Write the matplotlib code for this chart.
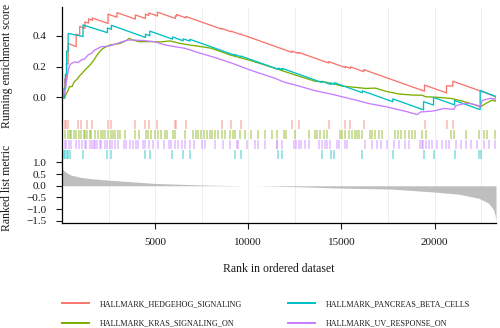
import matplotlib
matplotlib.use("Agg")
import matplotlib.pyplot as plt
from matplotlib.lines import Line2D

plt.rcParams["font.family"] = ["Liberation Serif", "DejaVu Serif"]

N_GENES = 23300

SET_NAMES = [
    "HALLMARK_HEDGEHOG_SIGNALING",
    "HALLMARK_KRAS_SIGNALING_ON",
    "HALLMARK_PANCREAS_BETA_CELLS",
    "HALLMARK_UV_RESPONSE_ON",
]
SET_COLORS = ["#F8766D", "#7CAE00", "#00BFC4", "#C77CFF"]

# running enrichment score, (rank, score) vertices
hedgehog_curve = [
    (0, 0.0), (150, -0.006), (150, 0.12), (240, 0.116), (240, 0.22), (330, 0.216),
    (330, 0.35), (760, 0.33), (760, 0.41), (950, 0.402), (950, 0.46), (1230, 0.448),
    (1230, 0.49), (1430, 0.482), (1430, 0.51), (1630, 0.50), (1630, 0.515),
    (2470, 0.48), (2470, 0.54), (2950, 0.52), (2950, 0.55), (3940, 0.508),
    (3940, 0.535), (4480, 0.512), (4480, 0.54), (4660, 0.532), (4660, 0.548),
    (5125, 0.528), (5125, 0.553), (6090, 0.512), (6090, 0.53), (6150, 0.527),
    (6150, 0.538), (6650, 0.516), (6650, 0.525), (8566, 0.443), (8566, 0.448),
    (9068, 0.426), (9068, 0.43), (9606, 0.407), (9606, 0.41), (12349, 0.292),
    (12349, 0.30), (12705, 0.285), (12705, 0.292), (14318, 0.223), (14318, 0.232),
    (15215, 0.193), (15215, 0.20), (15484, 0.188), (15484, 0.198), (16199, 0.167),
    (16199, 0.18), (19462, 0.04), (19462, 0.08), (20645, 0.029), (20645, 0.075),
    (20984, 0.0735), (20984, 0.105), (22563, 0.037), (23300, 0.004),
]
kras_curve = [
    (0, 0.0), (161, 0.004), (250, 0.03), (323, 0.043), (400, 0.07), (538, 0.07),
    (650, 0.1), (806, 0.117), (950, 0.14), (1075, 0.156), (1250, 0.18), (1505, 0.21),
    (1700, 0.24), (1882, 0.275), (2050, 0.3), (2204, 0.318), (2400, 0.33),
    (2581, 0.34), (2850, 0.345), (3118, 0.35), (3300, 0.36), (3495, 0.372),
    (3600, 0.383), (3750, 0.375), (4000, 0.365), (4194, 0.361), (4700, 0.362),
    (5269, 0.36), (5806, 0.366), (6344, 0.35), (6968, 0.338), (7419, 0.33),
    (7957, 0.32), (8226, 0.31), (9032, 0.275), (10108, 0.24), (11452, 0.188),
    (12527, 0.145), (13602, 0.104), (14050, 0.101), (14498, 0.09), (15036, 0.073),
    (15753, 0.065), (16300, 0.058), (16828, 0.06), (17366, 0.04), (18082, 0.022),
    (18799, 0.015), (19337, 0.014), (19522, 0.004), (20233, 0.0), (20950, -0.008),
    (21488, -0.024), (22205, -0.05), (22473, -0.062), (22742, -0.04),
    (23100, -0.017), (23250, -0.025), (23300, -0.02),
]
pancreas_curve = [
    (0, 0.0), (110, -0.005), (110, 0.06), (180, 0.057), (180, 0.15), (250, 0.147),
    (250, 0.3), (330, 0.297), (330, 0.415), (1129, 0.395), (1129, 0.47),
    (2437, 0.42), (2437, 0.45), (2652, 0.442), (2652, 0.468), (4480, 0.389),
    (4480, 0.41), (4713, 0.40), (4713, 0.43), (5932, 0.378), (5932, 0.392),
    (6505, 0.367), (6505, 0.38), (6864, 0.365), (6864, 0.377), (9283, 0.273),
    (9283, 0.278), (9606, 0.264), (9606, 0.268), (11613, 0.182), (11613, 0.19),
    (11828, 0.181), (11828, 0.188), (13943, 0.097), (13943, 0.105), (14444, 0.083),
    (14444, 0.093), (14624, 0.085), (14624, 0.095), (16129, 0.030), (16129, 0.042),
    (17760, -0.028), (17760, -0.01), (19409, -0.081), (19409, -0.028),
    (19946, -0.05), (19946, 0.0), (21075, -0.049), (21075, -0.02), (22450, -0.08),
    (22450, 0.045), (23300, 0.005),
]
uv_curve = [
    (0, 0.0), (60, 0.0), (161, 0.047), (200, 0.06), (233, 0.1), (300, 0.15),
    (380, 0.2), (430, 0.21), (502, 0.22), (600, 0.225), (681, 0.23), (860, 0.226),
    (1039, 0.243), (1219, 0.25), (1398, 0.275), (1577, 0.286), (1756, 0.307),
    (1935, 0.318), (2115, 0.329), (2473, 0.332), (2832, 0.344), (3190, 0.36),
    (3548, 0.372), (3907, 0.372), (4444, 0.368), (4982, 0.361), (5538, 0.34),
    (6613, 0.318), (7330, 0.29), (8226, 0.258), (9122, 0.222), (10108, 0.177),
    (11452, 0.123), (11900, 0.1), (12527, 0.08), (13602, 0.043), (14498, 0.02),
    (15036, 0.004), (15753, -0.017), (16470, -0.04), (17366, -0.06),
    (18530, -0.093), (19068, -0.112), (19247, -0.095), (19964, -0.088),
    (20502, -0.072), (21040, -0.078), (21130, -0.055), (21577, -0.04),
    (21935, -0.04), (22473, -0.058), (22560, -0.02), (23011, -0.006),
    (23250, -0.012), (23300, 0.0),
]

# positions of the gene set members in the ranked list
hedgehog_hits = [
    150, 240, 330, 860, 1004, 1362, 1631, 2473, 2652, 3943, 4480, 4660, 5125,
    6093, 6147, 6649, 8566, 9068, 9606, 12349, 12705, 14318, 15215, 15484, 16199,
    19462, 20645, 20984,
]
kras_hits = [
    143, 323, 412, 502, 645, 771, 896, 1039, 1183, 1254, 1362, 1487, 1577, 1792,
    1935, 2079, 2204, 2330, 2473, 2616, 2742, 2867, 3011, 3100, 3369, 3942, 4140,
    4534, 4623, 4767, 4982, 5161, 5340, 5519, 5663, 5967, 6093, 6595, 7043, 7168,
    7311, 7455, 7634, 7759, 7939, 8064, 8207, 8387, 8566, 8745, 9014, 9193, 9283,
    9551, 9820, 10143, 10537, 10895, 11254, 11542, 11900, 12025, 12527, 13244,
    13602, 13692, 13871, 14050, 14230, 14946, 15036, 15215, 15430, 15574, 15753,
    15842, 15932, 16111, 16559, 16649, 16828, 17007, 17186, 17903, 18046, 18226,
    18441, 18620, 18799, 18943, 19337, 19516, 20860, 21039, 21666, 22383, 22652,
    22831, 23250,
]
pancreas_hits = [
    108, 180, 250, 330, 412, 1129, 2437, 2652, 4480, 4713, 5932, 6505, 6864, 9283,
    9606, 11613, 11828, 13943, 14444, 14624, 16129, 17760, 19409, 19946, 21075,
    22401, 22509,
]
uv_hits = [
    143, 233, 358, 502, 771, 896, 1075, 1219, 1308, 1487, 1613, 1720, 1792, 1900,
    2025, 2115, 2294, 2437, 2563, 2688, 2867, 3011, 3333, 3459, 3638, 3817, 3996,
    4086, 4355, 4480, 4659, 4892, 5161, 5484, 5735, 5878, 6093, 6236, 6451, 6595,
    6863, 7096, 7526, 7670, 8207, 8655, 9014, 9372, 9462, 9910, 10358, 10501,
    10895, 11522, 11542, 11810, 12438, 12563, 12706, 12850, 13029, 13244, 13782,
    13961, 14104, 14230, 14409, 14767, 14893, 15179, 15305, 16290, 16649, 16918,
    17151, 17455, 17814, 18082, 18441, 18620, 19193, 19301, 19373, 19516, 19695,
    19874, 20143, 20412, 20591, 20770, 21129, 21398, 21666, 21935, 22294, 22652,
    22921, 23250,
]

# ranked list metric
metric_rank = [
    0, 50, 200, 500, 1000, 1577, 2500, 3369, 4982, 6500, 7490, 8500, 9500, 9700,
    10400, 11500, 13000, 15016, 17705, 20035, 21290, 22365, 22900, 23170, 23250,
    23300,
]
metric_value = [
    0.85, 0.70, 0.58, 0.45, 0.36, 0.30, 0.24, 0.19, 0.10, 0.06, 0.035, 0.018,
    0.006, 0.0, 0.0, -0.02, -0.05, -0.10, -0.14, -0.27, -0.36, -0.53, -0.74,
    -1.03, -1.25, -1.50,
]

curves = [hedgehog_curve, kras_curve, pancreas_curve, uv_curve]
hits = [hedgehog_hits, kras_hits, pancreas_hits, uv_hits]
# rug rows from top to bottom
rug_order = [0, 1, 3, 2]

fig = plt.figure(figsize=(5, 3.28), dpi=100)
ax_es = fig.add_axes([0.124, 0.6341, 0.868, 0.3457])
ax_rug = fig.add_axes([0.124, 0.5122, 0.868, 0.1219])
ax_rank = fig.add_axes([0.124, 0.3201, 0.868, 0.1921])

text_color = "#1a1a1a"
for ax in (ax_es, ax_rug, ax_rank):
    ax.set_xlim(0, N_GENES)
    for x in range(2500, N_GENES, 2500):
        ax.axvline(x, color="#EBEBEB", lw=0.6, zorder=0)
    for side in ("top", "right", "bottom"):
        ax.spines[side].set_visible(False)
    ax.spines["left"].set_linewidth(0.9)
    ax.tick_params(axis="both", colors=text_color, labelsize=8, length=4.5,
                   width=0.8, pad=6.5)

# running enrichment score
for curve, color in zip(curves, SET_COLORS):
    xs = [p[0] for p in curve]
    ys = [p[1] for p in curve]
    ax_es.plot(xs, ys, color=color, lw=0.95)
ax_es.set_ylim(-0.147, 0.589)
ax_es.set_yticks([0.0, 0.2, 0.4])
ax_es.set_yticklabels(["0.0", "0.2", "0.4"])
ax_es.set_xticks([])
ax_es.set_ylabel("Running enrichment score", fontsize=8.5, color=text_color)
ax_es.yaxis.set_label_coords(-0.112, 0.48)

# gene set membership rug
row_h = 10
for row, idx in enumerate(rug_order):
    top = 40 - row * row_h - 0.3
    ax_rug.vlines(hits[idx], top - 8.5, top, colors=SET_COLORS[idx], lw=1.1, alpha=0.5)
ax_rug.set_ylim(0, 40)
ax_rug.set_xticks([])
ax_rug.set_yticks([])

# ranked list metric
ax_rank.fill_between(metric_rank, 0, metric_value, color="#BEBEBE", lw=0)
ax_rank.set_ylim(-1.59, 1.1)
ax_rank.set_yticks([1.0, 0.5, 0.0, -0.5, -1.0, -1.5])
ax_rank.set_xticks([5000, 10000, 15000, 20000])
ax_rank.spines["bottom"].set_visible(True)
ax_rank.spines["bottom"].set_linewidth(0.9)
ax_rank.set_ylabel("Ranked list metric", fontsize=8.5, color=text_color)
ax_rank.yaxis.set_label_coords(-0.112, 0.55)
ax_rank.set_xlabel("Rank in ordered dataset", fontsize=8.5, color=text_color, labelpad=11)

handles = [Line2D([], [], color=c, lw=1.4) for c in SET_COLORS]
fig.legend(
    handles, SET_NAMES, loc="center", bbox_to_anchor=(0.532, 0.043), ncol=2,
    frameon=False, fontsize=5.9, handlelength=3.3, handletextpad=1.4,
    columnspacing=5.5, labelspacing=1.4, labelcolor=text_color,
)

fig.savefig("out.png", dpi=100)
